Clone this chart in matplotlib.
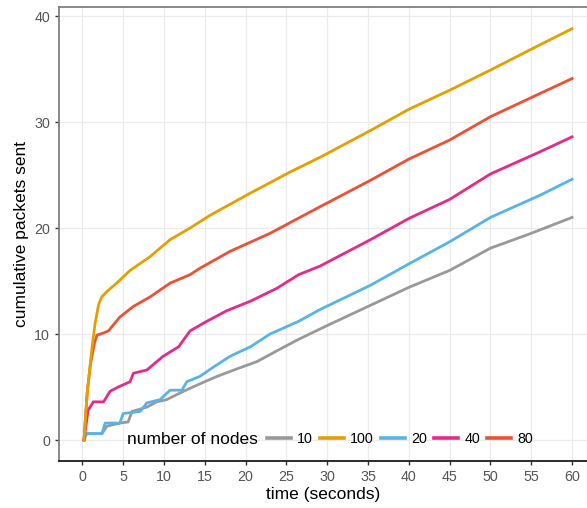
import matplotlib
matplotlib.use("Agg")
import matplotlib.pyplot as plt
from matplotlib.lines import Line2D

plt.rcParams['font.family'] = ['Liberation Sans', 'DejaVu Sans']

# ---- data ----
node_labels = ["10", "100", "20", "40", "80"]

t_10 = [0.2, 0.5, 2.4, 3.0, 4.6, 5.6, 6.1, 7.9, 9.1, 10.3, 12.4, 14.4, 16.5, 18.9,
        21.4, 23.8, 26.5, 30, 35, 40, 45, 50, 55, 60]
v_10 = [0, 0.6, 0.6, 1.3, 1.6, 1.7, 2.7, 3.1, 3.6, 3.8, 4.6, 5.3, 6.0, 6.7,
        7.4, 8.4, 9.5, 10.8, 12.6, 14.4, 16.0, 18.1, 19.5, 21.0]

t_20 = [0.2, 0.5, 2.4, 2.8, 4.6, 5.0, 7.1, 7.9, 9.5, 10.75, 12.2, 12.8, 14.4, 16.1,
        18.1, 20.6, 23, 26.5, 29.1, 35.3, 40.2, 45, 50, 56.1, 60]
v_20 = [0, 0.6, 0.6, 1.6, 1.6, 2.5, 2.7, 3.5, 3.8, 4.7, 4.7, 5.5, 6.0, 6.9,
        7.9, 8.8, 10.0, 11.2, 12.3, 14.6, 16.7, 18.7, 21.0, 23.1, 24.6]

t_40 = [0.2, 0.7, 1.35, 2.6, 3.4, 4.4, 5.85, 6.25, 7.9, 9.9, 11.8, 13.2, 15.25, 17.7,
        20.6, 23.8, 26.5, 29.1, 35.3, 40, 45, 50, 56.1, 60]
v_40 = [0, 2.8, 3.6, 3.6, 4.6, 5.0, 5.5, 6.3, 6.6, 7.9, 8.8, 10.3, 11.2, 12.2,
        13.1, 14.3, 15.6, 16.4, 18.9, 20.9, 22.7, 25.1, 27.2, 28.6]

t_80 = [0.2, 0.6, 1.0, 1.5, 1.8, 2.6, 3.2, 4.6, 6.25, 8.3, 10.75, 13.2, 14.4, 18.1,
        23, 29.1, 35.3, 40, 45, 50, 56.1, 60]
v_80 = [0, 4.5, 7.2, 9.2, 9.9, 10.1, 10.3, 11.6, 12.6, 13.5, 14.8, 15.6, 16.2, 17.8,
        19.5, 22.0, 24.5, 26.5, 28.3, 30.5, 32.7, 34.1]

t_100 = [0.2, 0.6, 1.15, 1.56, 2.0, 2.38, 3.0, 4.2, 5.85, 8.3, 10.75, 13.2, 15.65, 20.6,
         25.5, 29.2, 35.3, 40, 45, 50, 56.1, 60]
v_100 = [0, 4.5, 8.5, 11.0, 12.8, 13.5, 14.0, 14.8, 16.0, 17.3, 18.9, 20.0, 21.2, 23.3,
         25.3, 26.7, 29.2, 31.2, 33.0, 34.9, 37.3, 38.8]

x_ticks = list(range(0, 61, 5))
y_ticks = [0, 10, 20, 30, 40]

series = {
    "10": (t_10, v_10),
    "100": (t_100, v_100),
    "20": (t_20, v_20),
    "40": (t_40, v_40),
    "80": (t_80, v_80),
}
colors = {"10": "#999999", "100": "#E69F00", "20": "#56B4E9",
          "40": "#E7298A", "80": "#EE5035"}

W, H = 587, 508
fig = plt.figure(figsize=(W / 100, H / 100), dpi=100)
ax = fig.add_axes([59 / W, 47 / H, 529 / W, 454 / H])

for lab in ["10", "20", "40", "80", "100"]:
    t, v = series[lab]
    ax.plot(t, v, color=colors[lab], lw=2.0, solid_joinstyle='round', zorder=3)

ax.set_xlim(-2.86, 61.95)
ax.set_ylim(-1.98, 40.85)
ax.set_xticks(x_ticks)
ax.set_yticks(y_ticks)
ax.grid(True, color="#EBEBEB", lw=0.9, zorder=0)
ax.set_axisbelow(True)

for s in ["left", "top"]:
    ax.spines[s].set_color("#7F7F7F")
    ax.spines[s].set_linewidth(1.3)
ax.spines["right"].set_visible(False)
ax.spines["bottom"].set_color("#1A1A1A")
ax.spines["bottom"].set_linewidth(1.3)

ax.tick_params(axis="both", length=3, width=1.0, color="#333333",
               labelcolor="#555555", labelsize=10.3, pad=3.5)

ax.set_xlabel("time (seconds)", fontsize=12.5, color="black", labelpad=2)
ax.set_ylabel("cumulative packets sent", fontsize=12.5, color="black", labelpad=4)

# legend
handles = [Line2D([], [], color=colors[l], lw=2.6) for l in node_labels]
leg = ax.legend(handles, node_labels, loc="center left",
                bbox_to_anchor=((267 - 59) / 529, (461 - 439) / 454),
                ncol=5, frameon=False, fontsize=10.3, handlelength=1.65,
                handletextpad=0.45, columnspacing=0.5, borderpad=0,
                borderaxespad=0)
ax.text((127 - 59) / 529, (461 - 439) / 454, "number of nodes",
        transform=ax.transAxes, ha="left", va="center", fontsize=12.5,
        color="black")

fig.savefig("out.png", dpi=100)
